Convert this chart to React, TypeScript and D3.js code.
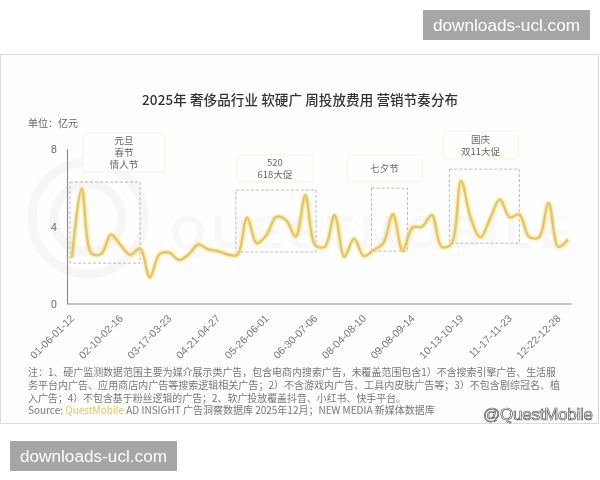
import React from "react";
import * as d3 from "d3";

const tickLabels = ["01-06-01-12","02-10-02-16","03-17-03-23","04-21-04-27","05-26-06-01","06-30-07-06","08-04-08-10","09-08-09-14","10-13-10-19","11-17-11-23","12-22-12-28"];
const tickIndexes = [0,5,10,15,20,25,30,35,40,45,50];
const yTicks = [0,4,8];
const spend = [2.39,5.96,2.61,2.58,3.59,3.04,2.53,2.87,1.37,2.58,2.65,2.27,2.56,3.08,2.82,2.73,2.56,2.53,4.47,3.13,3.56,4.50,4.33,3.47,5.62,3.04,2.95,4.59,2.44,3.38,2.47,2.78,3.13,4.64,2.73,3.95,3.99,4.59,2.95,3.09,6.36,4.42,3.44,4.42,5.40,4.47,4.62,3.47,3.44,5.22,2.95,3.33];
const campaignSpans = [
  { from: -0.2, to: 7, low: 2.11, high: 6.29 },
  { from: 16.85, to: 25.1, low: 2.68, high: 5.88 },
  { from: 30.8, to: 34.5, low: 2.73, high: 5.98 },
  { from: 38.8, to: 46, low: 3.14, high: 6.96 },
];
const calloutLines = [["元旦","春节","情人节"],["520","618大促"],["七夕节"],["国庆","双11大促"]];
const calloutBoxes = [[83,133,82,39],[237,155,76,27],[347,155,75,27],[443,131,75,28]];
const notes = [
  "注：1、硬广监测数据范围主要为媒介展示类广告，包含电商内搜索广告，未覆盖范围包含1）不含搜索引擎广告、生活服",
  "务平台内广告、应用商店内广告等搜索逻辑相关广告；2）不含游戏内广告、工具内皮肤广告等；3）不包含剧综冠名、植",
  "入广告；4）不包含基于粉丝逻辑的广告；2、软广投放覆盖抖音、小红书、快手平台。",
];
const noteWidths = [528,532,378];

const x = d3.scaleLinear().domain([0,51]).range([72,568]);
const y = d3.scaleLinear().domain([0,8]).range([304,149]);
const line = d3.line<number>().x((_,i)=>x(i)).y(d=>y(d)).curve(d3.curveCatmullRom.alpha(0.5));
const cjk = "'Noto Sans CJK SC','Noto Sans',sans-serif";
const latin = "'Liberation Sans',Arial,sans-serif";

function Badge({bx,by}:{bx:number;by:number}){
  return <g>
    <rect x={bx} y={by} width={167} height={30} fill="#a6a6a6"/>
    <text x={bx+83.5} y={by+21} textAnchor="middle" fontFamily={latin} fontSize={16} fill="#fff" textLength={147} lengthAdjust="spacingAndGlyphs">downloads-ucl.com</text>
  </g>;
}

export default function App(){
  return <svg width={600} height={480} style={{position:"fixed",left:0,top:0,background:"#fff"}} fontFamily={cjk}>
    <defs>
      <filter id="soft" x="-5%" y="-5%" width="110%" height="110%"><feGaussianBlur stdDeviation="0.45"/></filter>
      <filter id="glow" x="-5%" y="-20%" width="110%" height="140%"><feGaussianBlur stdDeviation="1.2"/></filter>
    </defs>
    <g filter="url(#soft)">
      <rect x={0.5} y={54.5} width={598} height={369} fill="#fefefe" stroke="#dcdcdc" strokeWidth={1}/>
      <g fill="none" stroke="#f6f6f6" strokeWidth={9}>
        <circle cx={88} cy={218} r={56}/>
        <circle cx={88} cy={218} r={34}/>
      </g>
      <text x={170} y={248} fontFamily={latin} fontWeight={700} fontSize={46} fill="#f8f8f8" textLength={400}>QUESTMOBILE</text>
      <text x={300} y={105} textAnchor="middle" fontSize={13.5} fontWeight={500} fill="#333" textLength={316}>2025年 奢侈品行业 软硬广 周投放费用  营销节奏分布</text>
      <text x={28} y={127} fontSize={10} fill="#666">单位：亿元</text>
      {yTicks.map(t=><text key={t} x={54} y={y(t)+4} textAnchor="middle" fontFamily={latin} fontSize={10.5} fill="#666">{t}</text>)}
      <path d={`M${x(0)-4.5},${y(8)}V${y(0)}H572`} fill="none" stroke="#888" strokeWidth={1.1}/>
      {campaignSpans.map((s,i)=><rect key={i} x={x(s.from)} y={y(s.high)} width={x(s.to)-x(s.from)} height={y(s.low)-y(s.high)} fill="none" stroke="#aaa" strokeWidth={0.8} strokeDasharray="3 2"/>)}
      {calloutBoxes.map(([bx,by,w,h],i)=>{
        const lines=calloutLines[i];
        const cy=by+h/2-(lines.length-1)*6;
        return <g key={i}>
          <rect x={bx} y={by} width={w} height={h} rx={4} fill="#fefefc" stroke="#f5f3e6" strokeWidth={1}/>
          {lines.map((l,j)=><text key={j} x={bx+w/2} y={cy+j*12+3.5} textAnchor="middle" fontSize={9.5} fill="#666">{l}</text>)}
        </g>;
      })}
      <path d={line(spend)!} fill="none" stroke="#f3dc8a" strokeWidth={3.5} filter="url(#glow)"/>
      <path d={line(spend)!} fill="none" stroke="#e6c65c" strokeWidth={2.2} strokeLinejoin="round"/>
      {tickIndexes.map((ti,i)=><text key={ti} transform={`translate(${x(ti)+3},319) rotate(-45)`} textAnchor="end" fontFamily={latin} fontSize={10.5} fill="#777">{tickLabels[i]}</text>)}
      {notes.map((n,i)=><text key={i} x={28} y={376+i*13} fontSize={10} fill="#777" textLength={noteWidths[i]} lengthAdjust="spacingAndGlyphs">{n}</text>)}
      <text x={28} y={414} fontSize={10} fill="#777">
        <tspan>Source: </tspan><tspan fill="#e8c55a">QuestMobile</tspan><tspan> AD INSIGHT 广告洞察数据库 2025年12月；NEW MEDIA 新媒体数据库</tspan>
      </text>
      <text x={483} y={420} fontFamily={latin} fontSize={17} fill="#fff" stroke="#555" strokeWidth={0.7} textLength={110}>@QuestMobile</text>
    </g>
    <g filter="url(#soft)">
      <Badge bx={423} by={10}/>
      <Badge bx={10} by={441}/>
    </g>
  </svg>;
}
